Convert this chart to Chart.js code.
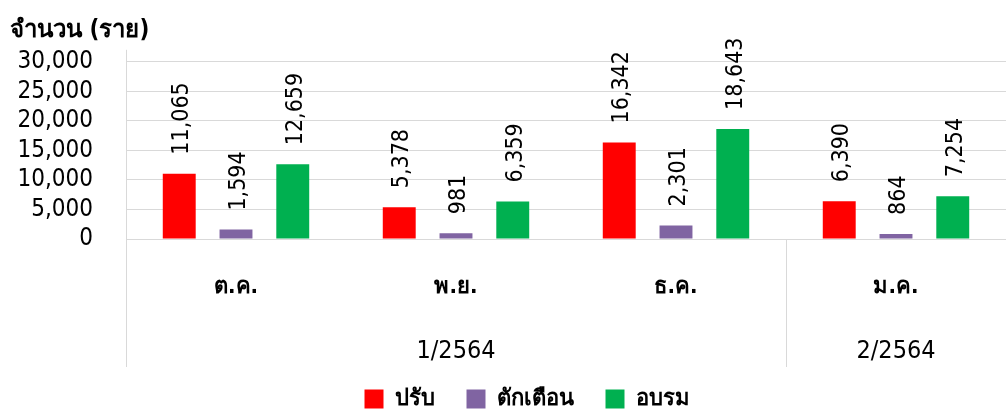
<!DOCTYPE html>
<html>
<head>
<meta charset="utf-8">
<script src="https://cdn.jsdelivr.net/npm/chart.js@4"></script>
<style>
  body { margin: 0; background: #fff; }
  #wrap { width: 1006px; height: 412px; }
</style>
</head>
<body>
<div id="wrap"><canvas id="chart"></canvas></div>
<script>
const months = ["ต.ค.", "พ.ย.", "ธ.ค.", "ม.ค."];
const terms = ["1/2564", "1/2564", "1/2564", "2/2564"];
const fines = [11065, 5378, 16342, 6390];
const warnings = [1594, 981, 2301, 864];
const trainings = [12659, 6359, 18643, 7254];
const seriesNames = ["ปรับ", "ตักเตือน", "อบรม"];

const FONT = "Tahoma, 'DejaVu Sans Condensed', 'DejaVu Sans', sans-serif";
const lineColor = "#d9d9d9";

// ตัวเลขบนแท่ง (หมุน 90 องศา)
const barLabels = {
    id: "barLabels",
    afterDatasetsDraw(chart) {
        const ctx = chart.ctx;
        ctx.save();
        ctx.font = "23px " + FONT;
        ctx.fillStyle = "#000";
        ctx.textAlign = "left";
        ctx.textBaseline = "middle";
        chart.data.datasets.forEach((ds, i) => {
            chart.getDatasetMeta(i).data.forEach((bar, j) => {
                ctx.save();
                ctx.translate(bar.x + 3, bar.y - 19);
                ctx.rotate(-Math.PI / 2);
                ctx.fillText(ds.data[j].toLocaleString("en-US"), 0, 0);
                ctx.restore();
            });
        });
        ctx.restore();
    }
};

// แกน x สองชั้น (เดือน / ภาคเรียน)
const termAxis = {
    id: "termAxis",
    afterLayout(chart) {
        // เลื่อน legend ไปทางขวาเล็กน้อย
        chart.legend.left += 19;
        chart.legend.right += 19;
    },
    afterDraw(chart) {
        const ctx = chart.ctx;
        const x = chart.scales.x;
        const area = chart.chartArea;
        const half = (x.getPixelForValue(1) - x.getPixelForValue(0)) / 2;
        const bottom = area.bottom + 128;
        ctx.save();
        ctx.strokeStyle = lineColor;
        ctx.lineWidth = 1;
        ctx.beginPath();
        ctx.moveTo(area.left + 0.5, area.top - 12);
        ctx.lineTo(area.left + 0.5, bottom);
        ctx.stroke();

        ctx.font = "25px " + FONT;
        ctx.fillStyle = "#000";
        ctx.textAlign = "center";
        ctx.textBaseline = "middle";
        let start = 0;
        for (let i = 1; i <= terms.length; i++) {
            if (i === terms.length || terms[i] !== terms[start]) {
                const left = x.getPixelForValue(start) - half;
                const right = x.getPixelForValue(i - 1) + half;
                if (i < terms.length) {
                    ctx.beginPath();
                    ctx.moveTo(Math.round(right) + 0.5, area.bottom);
                    ctx.lineTo(Math.round(right) + 0.5, bottom);
                    ctx.stroke();
                }
                ctx.fillText(terms[start], (left + right) / 2, area.bottom + 112);
                start = i;
            }
        }
        ctx.restore();
    }
};

new Chart(document.getElementById("chart"), {
    type: "bar",
    data: {
        labels: months,
        datasets: [
            { label: seriesNames[0], data: fines, backgroundColor: "#ff0000" },
            { label: seriesNames[1], data: warnings, backgroundColor: "#8064a2" },
            { label: seriesNames[2], data: trainings, backgroundColor: "#00b050" }
        ]
    },
    options: {
        responsive: true,
        maintainAspectRatio: false,
        animation: false,
        categoryPercentage: 0.774,
        barPercentage: 0.58,
        layout: { padding: { left: 10, right: 0, top: 0, bottom: -8 } },
        plugins: {
            tooltip: { enabled: false },
            title: {
                display: true,
                text: "จำนวน (ราย)",
                align: "start",
                color: "#000",
                font: { family: FONT, size: 24, weight: "bold" },
                padding: { top: 16, bottom: 17 }
            },
            legend: {
                position: "bottom",
                labels: {
                    boxWidth: 19,
                    boxHeight: 19,
                    padding: 32,
                    color: "#000",
                    font: { family: FONT, size: 22, weight: "bold" }
                }
            }
        },
        scales: {
            x: {
                grid: { display: false, drawTicks: false },
                border: { color: lineColor },
                ticks: {
                    color: "#000",
                    padding: 35,
                    font: { family: FONT, size: 22, weight: "bold" }
                },
                afterFit(scale) { scale.height = 117; }
            },
            y: {
                min: 0,
                max: 30000,
                ticks: {
                    stepSize: 5000,
                    autoSkip: false,
                    color: "#000",
                    padding: 33,
                    font: { family: FONT, size: 24, lineHeight: 1 },
                    callback: (v) => v.toLocaleString("en-US")
                },
                grid: { color: lineColor, drawTicks: false },
                border: { display: false },
                afterFit(scale) { scale.width = 116; }
            }
        }
    },
    plugins: [barLabels, termAxis]
});
</script>
</body>
</html>
